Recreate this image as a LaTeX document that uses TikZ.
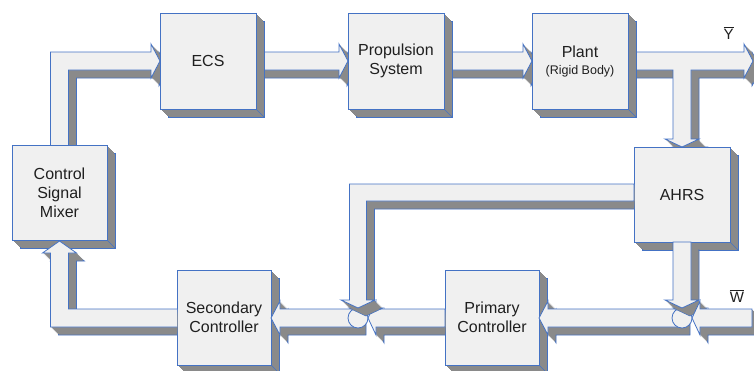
\documentclass[tikz,border=0pt]{standalone}
\usepackage{fontspec}
\setmainfont{Liberation Sans}
\definecolor{facec}{HTML}{F0F0F0}
\definecolor{shadec}{HTML}{8A8A8A}
\definecolor{edgec}{HTML}{4472C4}
\tikzset{
  edge/.style={draw=edgec, line width=0.8pt, line join=miter},
  facefill/.style={fill=facec, edge},
  lbl/.style={font=\fontsize{16}{19}\selectfont, align=center, text=black!88},
  iolbl/.style={font=\fontsize{15}{18}\selectfont, text=black!88, inner sep=0pt},
}
\newcommand\extrude[1]{%
  \filldraw[fill=shadec, draw=edgec, line width=0.6pt, shift={(8,8)}] #1 -- cycle;
  \foreach \s in {7,6,5,4,3,2,1}{\fill[shadec, shift={(\s,\s)}] #1 -- cycle;}
  \filldraw[facefill] #1 -- cycle;
}
\newcommand\blk[6]{%
  \extrude{(#2,#3)--(#4,#3)--(#4,#5)--(#2,#5)}
  \draw[edgec, line width=0.6pt] (#4,#5) -- ++(8,8);
  \node[lbl] (#1) at ({(#2+#4)/2},{(#3+#5)/2}) {#6};
}
\begin{document}
\begin{tikzpicture}[x=1pt,y=-1pt]
\useasboundingbox (0,0) rectangle (754,370);
% ---- arrows that pass under boxes
\extrude{(50.5,150)--(50.5,52)--(151,52)--(151,44)--(160,61)--(151,78)--(151,70)--(68.5,70)--(68.5,150)}
\extrude{(250,52)--(339,52)--(339,44)--(348,61)--(339,78)--(339,70)--(250,70)}
\extrude{(440,52)--(523,52)--(523,44)--(532,61)--(523,78)--(523,70)--(440,70)}
\extrude{(620,52)--(744,52)--(744,44)--(753,61)--(744,78)--(744,70)--(691,70)--(691,139)--(699,139)--(682,147)--(665,139)--(673,139)--(673,70)--(620,70)}
% ---- boxes
\blk{ecs}{160}{13}{256}{109}{ECS}
\blk{prop}{348}{13}{444}{109}{Propulsion\\System}
\blk{plant}{532}{13}{628}{109}{Plant\\[-2pt]{\fontsize{12.5}{15}\selectfont(Rigid Body)}}
\blk{ahrs}{634}{147}{730}{242}{AHRS}
\blk{mixer}{12}{145}{107}{240}{Control\\Signal\\Mixer}
\blk{sec}{177}{270}{271}{365}{Secondary\\Controller}
\blk{prim}{445}{270}{539}{365}{Primary\\Controller}
% ---- arrows leaving the junctions
\extrude{(682,309)--(548,309)--(548,301)--(539,318)--(548,335)--(548,327)--(682,327)}
\extrude{(358,309)--(280,309)--(280,301)--(271,318)--(280,335)--(280,327)--(358,327)}
\begin{scope}
  \clip (0,0) rectangle (177,370);
  \extrude{(180,309)--(68.5,309)--(68.5,253)--(76.5,253)--(59.5,241)--(42.5,253)--(50.5,253)--(50.5,327)--(180,327)}
\end{scope}
% ---- junctions
\node[circle, facefill, minimum size=20pt, inner sep=0pt] (j1) at (358,318) {};
\node[circle, facefill, minimum size=20pt, inner sep=0pt] (j2) at (682,318) {};
% ---- arrows entering the junctions
\extrude{(673,242)--(673,300)--(665,300)--(682,308)--(699,300)--(691,300)--(691,242)}
\extrude{(752,309)--(700,309)--(700,301)--(692,318)--(700,335)--(700,327)--(752,327)}
\begin{scope}
  \clip (0,0) rectangle (445,370);
  \extrude{(445,309)--(376,309)--(376,301)--(368,318)--(376,335)--(376,327)--(445,327)}
\end{scope}
\begin{scope}
  \clip (0,0) rectangle (634,370);
  \extrude{(634,184)--(349.5,184)--(349.5,300)--(341,300)--(358,308)--(375,300)--(366.5,300)--(366.5,201)--(634,201)}
\end{scope}
% ---- signal labels
\node[iolbl] (ylab) at (728.5,33) {\(\overline{\mbox{Y}}\)};
\node[iolbl] (wlab) at (737,296) {\(\overline{\mbox{W}}\)};
\end{tikzpicture}
\end{document}
